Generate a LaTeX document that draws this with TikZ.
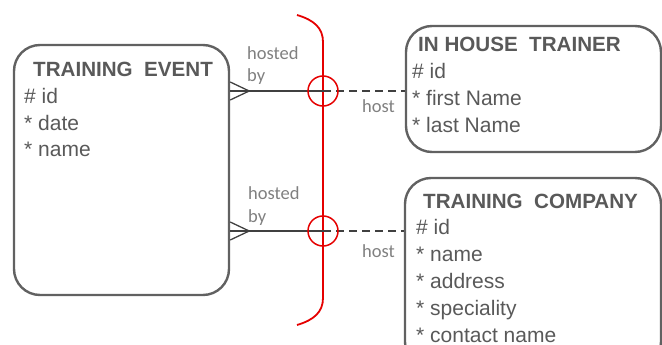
\documentclass[tikz,border=0pt]{standalone}
\usepackage{fontspec}
\setmainfont{Liberation Sans}
\newfontfamily\lblfont{Carlito}
\usepackage{tikz}
\usetikzlibrary{positioning}
\colorlet{colorEntity}{black!62}
\colorlet{colorText}{black!65}
\colorlet{colorLabel}{black!50}
\colorlet{colorRel}{black!75}
\colorlet{colorArc}{red!90!black}
\tikzset{
  entity/.style={draw=colorEntity, line width=2.4pt, rounded corners=26pt, inner sep=0pt},
  title/.style={anchor=base west, inner sep=0pt, text=colorText, font=\fontsize{20.6}{27}\selectfont\bfseries},
  attr/.style={anchor=base west, inner sep=0pt, align=left, text=colorText, font=\fontsize{21}{26.8}\selectfont},
  lbl/.style={anchor=base west, inner sep=0pt, align=left, text=colorLabel, font=\lblfont\fontsize{18.5}{23}\selectfont},
  rel/.style={draw=colorRel, line width=1.3pt},
  ring/.style={circle, draw=colorArc, line width=1.5pt, minimum size=30pt, inner sep=0pt},
}

\begin{document}
\begin{tikzpicture}[x=1pt, y=-1pt]
\path[use as bounding box, clip] (0,0) rectangle (662,345);
% entities (multi-line text is placed by its last baseline)
\node[entity, minimum width=215pt, minimum height=250pt] (event) at (121.5,170) {};
\node[entity, minimum width=255pt, minimum height=126pt] (trainer) at (533.5,89) {};
\node[entity, minimum width=256pt, minimum height=190pt] (company) at (533,273) {};
\node[title] (eventTitle) at (33,77) {TRAINING\ \ EVENT};
\node[attr] (eventAttr) at (24,157) {\# id\\* date\\* name};
\node[title] (trainerTitle) at (418,52) {IN HOUSE\ \ TRAINER};
\node[attr] (trainerAttr) at (412,132) {\# id\\* first Name\\* last Name};
\node[title] (companyTitle) at (423,208) {TRAINING\ \ COMPANY};
\node[attr] (companyAttr) at (416,342) {\# id\\* name\\* address\\* speciality\\* contact name};
% arc
\draw[colorArc, line width=1.8pt] (297,15) .. controls (314,20) and (323,28) .. (323,42) -- (323,298) .. controls (323,312) and (314,320) .. (297,325);
\coordinate (x1) at (323,91);
\coordinate (x2) at (323,231);
% relationships
\draw[rel] (event.east |- x1) -- (x1);
\draw[rel] (event.east |- x1) ++(0,-9) -- ++(19,9) -- ++(-19,9);
\draw[rel, dash pattern=on 8pt off 5pt] (x1) -- (trainer.west |- x1);
\draw[rel] (event.east |- x2) -- (x2);
\draw[rel] (event.east |- x2) ++(0,-9) -- ++(19,9) -- ++(-19,9);
\draw[rel, dash pattern=on 8pt off 5pt] (x2) -- (company.west |- x2);
\node[ring] (ring1) at (x1) {};
\node[ring] (ring2) at (x2) {};
% labels
\node[lbl] (hosted1) at (247,82) {hosted\\by};
\node[lbl] (host1) at (362,113) {host};
\node[lbl] (hosted2) at (248,222) {hosted\\by};
\node[lbl] (host2) at (362,257) {host};
\end{tikzpicture}
\end{document}
